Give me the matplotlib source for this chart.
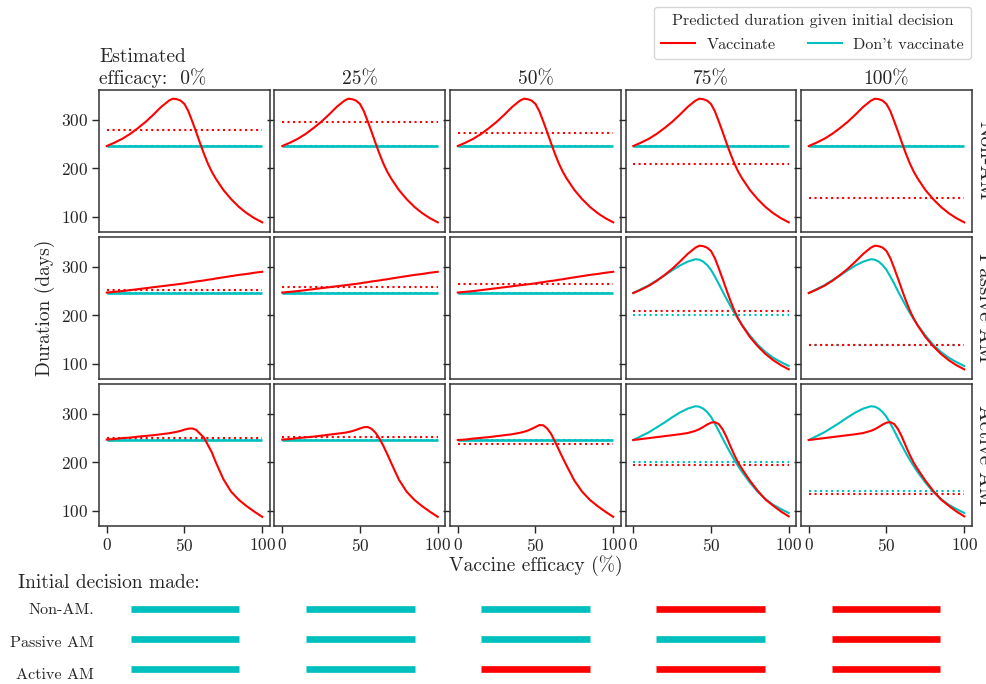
import matplotlib
matplotlib.use("Agg")
import matplotlib.pyplot as plt
from matplotlib.lines import Line2D

plt.rcParams["font.family"] = ["cmr10", "DejaVu Serif"]
plt.rcParams["axes.formatter.use_mathtext"] = True
plt.rcParams["mathtext.fontset"] = "cm"

# ---------------------------------------------------------------- data
efficacy = [0, 5, 10, 15, 20, 25, 30, 35, 40, 42.5, 45, 47.5, 50, 52.5,
            55, 57.5, 60, 62.5, 65, 67.5, 70, 75, 80, 85, 90, 95, 100]

estimated_labels = ["0%", "25%", "50%", "75%", "100%"]
decision_types = ["Non-AM", "Passive AM", "Active AM"]
decision_row_labels = ["Non-AM.", "Passive AM", "Active AM"]

# predicted duration (days) when vaccinating
vacc_peak = [246, 253, 261, 271, 283, 296, 311, 327, 340, 344, 343, 340,
             333, 318, 297, 275, 252, 230, 210, 193, 179, 155, 136, 120,
             107, 96.5, 88]
# predicted duration when not vaccinating, under AM behaviour change
novacc_peak = [246, 254, 262, 272, 282, 293, 303, 311, 316, 315, 311, 304,
               294, 280, 265, 249, 234, 219, 205, 192, 180, 158, 139, 124,
               112, 103, 95]
# passive AM, low estimated efficacy: vaccinating
vacc_passive_low = [247, 248.5, 250, 252, 254, 256, 258, 260, 262, 263, 264,
                    265, 266, 267.5, 268.5, 270, 271, 272, 273.5, 274.5, 276,
                    278.5, 281, 283.5, 285.5, 288, 290]
# active AM, vaccinating, per estimated efficacy 0%, 25%, 50%
vacc_active_0 = [247, 248, 250, 251, 253, 254.5, 256, 258, 260, 261.5, 263,
                 265, 267.5, 269.5, 270, 267, 259, 251, 236, 221, 201, 165,
                 139, 122, 109, 97.5, 87]
vacc_active_25 = [247, 248, 250, 251.5, 253, 255, 257, 259, 261, 262.5,
                  264.5, 267, 270, 272.5, 273, 269, 261, 249, 234, 217, 199,
                  164, 139, 122, 109, 97.5, 87]
vacc_active_50 = [246, 247, 249, 250.5, 252, 254, 256, 258, 261, 263, 265.5,
                  269, 273, 277, 276.5, 270, 259, 243, 226, 209, 193, 162,
                  139, 122, 109, 97.5, 87]
# active AM, vaccinating, estimated efficacy 75% and 100%
vacc_active_high = [246, 248, 250, 252, 254, 256, 258, 260.5, 265, 268.5,
                    273, 278, 282, 283, 279, 268, 252, 233, 215, 199, 186,
                    162, 141, 123, 110, 98, 88]

# duration with no vaccination and no behaviour change
baseline_duration = 246

# predicted duration given the initial decision (dotted lines)
vacc_given_decision = [[280, 296, 272, 209, 138],
                       [251.5, 259, 265, 209.5, 139],
                       [250, 252, 237, 194.5, 134]]
novacc_given_decision = [[246, 246, 246, 246, 246],
                         [246, 246, 246, 200.7, 138.5],
                         [246, 246, 246, 201, 139.5]]

# initial decision made: V = vaccinate, N = don't vaccinate
initial_decision = [["N", "N", "N", "V", "V"],
                    ["N", "N", "N", "N", "V"],
                    ["N", "N", "V", "V", "V"]]

# ---------------------------------------------------------------- style
RED = "#ff0000"
CYAN = "#00bfbf"
INK = "#262626"
decision_colors = {"V": RED, "N": CYAN}

vacc_curves = [
    [vacc_peak] * 5,
    [vacc_passive_low] * 3 + [vacc_peak] * 2,
    [vacc_active_0, vacc_active_25, vacc_active_50,
     vacc_active_high, vacc_active_high],
]
novacc_curves = [
    [None] * 5,
    [None] * 3 + [novacc_peak] * 2,
    [None] * 3 + [novacc_peak] * 2,
]

W, H = 987, 684
fig = plt.figure(figsize=(W / 100, H / 100), dpi=100)


def rect(left, top, width, height):
    return [left / W, 1 - (top + height) / H, width / W, height / H]


LW = 1.5
TICK_FS = 12.5
axes = []
for r in range(3):
    row = []
    for c in range(5):
        ax = fig.add_axes(rect(99 + c * 175.5, 90 + r * 147, 171, 142))
        x0, x1 = efficacy[0], efficacy[-1]
        # expected durations given the initial decision
        ax.hlines(novacc_given_decision[r][c], x0, x1, color=CYAN,
                  lw=LW, linestyles=":", zorder=2)
        ax.hlines(vacc_given_decision[r][c], x0, x1, color=RED,
                  lw=LW, linestyles=":", zorder=2)
        # duration curves
        if novacc_curves[r][c] is None:
            ax.hlines(baseline_duration, x0, x1, color=CYAN, lw=LW + 0.4,
                      zorder=3)
        else:
            ax.plot(efficacy, novacc_curves[r][c], color=CYAN, lw=LW,
                    zorder=3)
        ax.plot(efficacy, vacc_curves[r][c], color=RED, lw=LW, zorder=4)

        ax.set_xlim(-5, 105)
        ax.set_ylim(68, 362)
        ax.set_yticks([100, 200, 300])
        ax.set_xticks([0, 50, 100])
        for s in ax.spines.values():
            s.set_color("#333333")
            s.set_linewidth(1.1)
        ax.tick_params(colors=INK, labelsize=TICK_FS, length=5, width=1.0,
                       direction="out", pad=3)
        if c > 0:
            ax.tick_params(labelleft=False)
        if r < 2:
            ax.tick_params(bottom=False, labelbottom=False)
        row.append(ax)
    axes.append(row)

# column titles
axes[0][0].set_title("Estimated\nefficacy:  " + estimated_labels[0],
                     loc="left", fontsize=14, color=INK, pad=4)
for c in range(1, 5):
    axes[0][c].set_title(estimated_labels[c], fontsize=14, color=INK, pad=4)

axes[1][0].set_ylabel("Duration (days)", fontsize=14, color=INK)
axes[2][2].set_xlabel("Vaccine efficacy (%)", fontsize=14, color=INK,
                      labelpad=1)

# row titles on the right
for r, name in enumerate(decision_types):
    yc = 1 - (90 + r * 147 + 71) / H
    fig.text(975 / W, yc, name, rotation=270, ha="left", va="center",
             fontsize=15, color=INK)

# legend
handles = [Line2D([], [], color=RED, lw=LW),
           Line2D([], [], color=CYAN, lw=LW)]
leg = fig.legend(handles, ["Vaccinate", "Don't vaccinate"],
                 title="Predicted duration given initial decision",
                 ncol=2, loc="upper right",
                 bbox_to_anchor=(971 / W, 1 - 7 / H), borderaxespad=0,
                 fontsize=11.6, title_fontsize=11.6, frameon=True,
                 handlelength=2.1, columnspacing=2.0, borderpad=0.45,
                 labelspacing=0.55, handletextpad=0.7)
leg.get_frame().set_edgecolor("#cccccc")
leg.get_title().set_color(INK)
for t in leg.get_texts():
    t.set_color(INK)

# initial decision panel
dax = fig.add_axes(rect(99, 595, 873, 89))
dax.set_xlim(-0.49, 4.49)
dax.set_ylim(2.5, -0.45)
dax.axis("off")
for r in range(3):
    for c in range(5):
        dax.hlines(r, c - 0.31, c + 0.31,
                   color=decision_colors[initial_decision[r][c]], lw=4.8)
    fig.text(94 / W, 1 - (610.5 + r * 32.3) / H, decision_row_labels[r],
             ha="right", va="center", fontsize=11.6, color=INK)

fig.text(18 / W, 1 - 583 / H, "Initial decision made:", ha="left",
         va="center", fontsize=14, color=INK)

fig.savefig("out.png", dpi=100)
